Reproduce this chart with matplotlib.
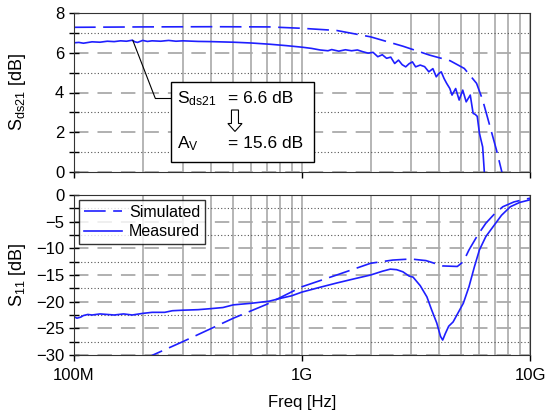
import numpy as np
import matplotlib
matplotlib.use('Agg')
import matplotlib.pyplot as plt
from matplotlib.patches import Rectangle, FancyArrow
from matplotlib.ticker import LogLocator, MultipleLocator, NullFormatter

plt.rcParams['font.family'] = ['Liberation Sans', 'DejaVu Sans']
plt.rcParams['mathtext.fontset'] = 'custom'
plt.rcParams['mathtext.rm'] = 'Liberation Sans'

# frequency in GHz
sds21_meas_f = [0.10, 0.105, 0.11, 0.12, 0.13, 0.14, 0.15, 0.16, 0.17, 0.18, 0.185, 0.19,
                0.20, 0.21, 0.22, 0.24, 0.26, 0.28, 0.30, 0.35, 0.40, 0.50, 0.60, 0.72,
                0.85, 1.0, 1.1, 1.2, 1.3, 1.35, 1.45, 1.55, 1.65, 1.75, 1.85, 1.95, 2.05,
                2.15, 2.25, 2.35, 2.45, 2.55, 2.65, 2.75, 2.85, 2.95, 3.05, 3.15, 3.3,
                3.45, 3.6, 3.75, 3.88, 3.98, 4.08, 4.2, 4.31, 4.45, 4.55, 4.72, 4.89,
                5.07, 5.25, 5.47, 5.63, 5.75, 5.87, 6.0, 6.1, 6.2, 6.33]
sds21_meas = [6.50, 6.52, 6.48, 6.55, 6.53, 6.58, 6.56, 6.60, 6.58, 6.63, 6.55, 6.52,
              6.62, 6.57, 6.60, 6.58, 6.62, 6.58, 6.60, 6.57, 6.56, 6.53, 6.49, 6.43,
              6.36, 6.28, 6.22, 6.14, 6.10, 6.16, 6.08, 6.15, 6.10, 6.14, 6.05, 5.98, 6.02,
              5.80, 5.90, 5.72, 5.78, 5.46, 5.63, 5.40, 5.29, 5.45, 5.54, 5.29, 5.38,
              5.30, 5.04, 5.20, 4.79, 4.95, 5.04, 4.70, 4.46, 4.20, 3.87, 4.20, 3.62,
              4.12, 3.53, 3.87, 2.95, 2.90, 2.80, 1.96, 1.60, 1.26, -0.3]

sds21_sim_f = [0.10, 0.20, 0.40, 0.72, 1.0, 1.42, 2.0, 2.77, 3.63, 4.46, 5.15, 5.83,
               6.2, 6.68, 7.13, 7.6]
sds21_sim = [7.28, 7.30, 7.31, 7.30, 7.23, 7.12, 6.80, 6.33, 5.88, 5.60, 5.21, 4.46,
             3.62, 2.28, 1.10, -0.2]

s11_meas_f = [0.10, 0.103, 0.107, 0.11, 0.115, 0.12, 0.13, 0.14, 0.15, 0.165, 0.18, 0.20,
              0.22, 0.25, 0.27, 0.30, 0.35, 0.40, 0.45, 0.50, 0.60, 0.72, 0.80, 0.90,
              1.0, 1.2, 1.42, 1.7, 2.0, 2.25, 2.44, 2.6, 2.77, 2.95, 3.07, 3.3, 3.53,
              3.7, 3.9, 4.05, 4.14, 4.25, 4.4, 4.6, 4.85, 5.1, 5.4, 5.7, 6.0, 6.4, 6.9,
              7.5, 8.2, 9.0, 10.0]
s11_meas = [-22.8, -23.1, -22.9, -22.6, -22.4, -22.5, -22.3, -22.4, -22.5, -22.3, -22.5,
            -22.2, -22.0, -22.0, -21.7, -21.6, -21.5, -21.3, -21.1, -20.6, -20.3, -19.9,
            -19.4, -18.9, -18.2, -17.3, -16.5, -15.7, -15.0, -14.3, -13.9, -14.0, -14.4,
            -15.2, -15.4, -17.0, -19.1, -21.5, -24.0, -26.5, -27.2, -26.0, -24.6, -23.8,
            -22.0, -20.3, -17.2, -13.5, -10.3, -7.8, -5.9, -3.8, -2.2, -1.4, -0.9]

s11_sim_f = [0.20, 0.222, 0.30, 0.50, 0.70, 1.0, 1.42, 2.0, 2.5, 3.0, 3.5, 4.14, 4.8,
             5.1, 5.4, 5.9, 6.4, 7.0, 7.6, 8.5, 9.3, 10.0]
s11_sim = [-31.0, -30.0, -27.5, -23.1, -20.5, -17.2, -15.0, -12.8, -12.2, -12.0, -12.3,
           -13.3, -13.4, -12.5, -10.3, -7.5, -5.3, -3.5, -2.2, -1.3, -0.9, -0.6]

xticks = [0.1, 1, 10]
xticklabels = ['100M', '1G', '10G']

blue = '#1f1fff'
dash = (0, (13, 4.5))

fig = plt.figure(figsize=(5.46, 4.17), dpi=100)
ax1 = fig.add_axes([74 / 546, 1 - 172 / 417, 456 / 546, 159 / 417])
ax2 = fig.add_axes([74 / 546, 1 - 355 / 417, 456 / 546, 160 / 417])


def style(ax, ymin, ymax, major, minor):
    ax.set_xscale('log')
    ax.set_xlim(0.1, 10)
    ax.set_ylim(ymin, ymax)
    ax.xaxis.set_major_locator(LogLocator(base=10, numticks=5))
    ax.xaxis.set_minor_locator(LogLocator(base=10, subs=np.arange(2, 10), numticks=20))
    ax.xaxis.set_minor_formatter(NullFormatter())
    ax.yaxis.set_major_locator(MultipleLocator(major))
    ax.yaxis.set_minor_locator(MultipleLocator(minor))
    ax.grid(True, which='both', axis='x', color='#b0b0b0', lw=1.3, ls='-')
    ax.grid(True, which='major', axis='y', color='#aaaaaa', lw=1.3, ls=(0, (8, 5)))
    ax.grid(True, which='minor', axis='y', color='#555555', lw=0.8, ls=(0, (1, 2)))
    ax.tick_params(axis='y', which='both', direction='inout', length=7, width=1,
                   labelsize=12, left=True, right=False)
    ax.tick_params(axis='x', which='major', direction='out', length=4, width=1,
                   labelsize=12, pad=5)
    ax.tick_params(axis='x', which='minor', length=0)
    for s in ax.spines.values():
        s.set_color('#333333')
    ax.set_axisbelow(True)


style(ax1, 0, 8, 2, 1)
style(ax2, -30, 0, 5, 2.5)
ax1.set_xticks(xticks)
ax1.set_xticklabels([])
ax2.set_xticks(xticks)
ax2.set_xticklabels(xticklabels)

ax1.plot(sds21_sim_f, sds21_sim, color=blue, lw=1.2, ls=dash)
ax1.plot(sds21_meas_f, sds21_meas, color=blue, lw=1.2)
ax2.plot(s11_sim_f, s11_sim, color=blue, lw=1.2, ls=dash, label='Simulated')
ax2.plot(s11_meas_f, s11_meas, color=blue, lw=1.2, label='Measured')

leg = ax2.legend(loc='upper left', fontsize=11.5, frameon=True, fancybox=False,
                 handlelength=2.4, borderaxespad=0.3, borderpad=0.3, labelspacing=0.3,
                 handletextpad=0.45)
leg.get_frame().set_edgecolor('black')
leg.get_frame().set_linewidth(1)

# annotation box
ax1.add_patch(Rectangle((0.213, 0.063), 0.313, 0.503, transform=ax1.transAxes,
                        facecolor='white', edgecolor='black', lw=1, zorder=5))
ax1.annotate('', xy=(0.181, 6.63), xycoords='data', xytext=(0.178, 0.465),
             textcoords='axes fraction',
             arrowprops=dict(arrowstyle='-', color='black', lw=0.8, shrinkA=0, shrinkB=0))
ax1.plot([0.178, 0.213], [0.465, 0.465], color='black', lw=0.8, transform=ax1.transAxes)
ax1.text(0.226, 0.434, r'$\mathregular{S_{ds21}}$', transform=ax1.transAxes,
         fontsize=12.5, va='baseline', zorder=6)
ax1.text(0.338, 0.434, '= 6.6 dB', transform=ax1.transAxes, fontsize=12.5,
         va='baseline', zorder=6)
ax1.text(0.226, 0.151, r'$\mathregular{A_V}$', transform=ax1.transAxes,
         fontsize=12.5, va='baseline', zorder=6)
ax1.text(0.338, 0.151, '= 15.6 dB', transform=ax1.transAxes, fontsize=12.5,
         va='baseline', zorder=6)
ax1.add_patch(FancyArrow(0.353, 0.39, 0, -0.135, width=0.0154, head_width=0.031,
                         head_length=0.05, length_includes_head=True,
                         transform=ax1.transAxes, facecolor='white',
                         edgecolor='black', lw=0.8, zorder=6))

fig.text(18 / 546, 1 - 92 / 417, r'$\mathregular{S_{ds21}}$ [dB]', rotation=90,
         ha='center', va='center', fontsize=13)
fig.text(18 / 546, 1 - 275 / 417, r'$\mathregular{S_{11}}$ [dB]', rotation=90,
         ha='center', va='center', fontsize=13)
fig.text(302 / 546, 1 - 402 / 417, 'Freq [Hz]', ha='center', va='center', fontsize=12)

fig.savefig('out.png', dpi=100)
